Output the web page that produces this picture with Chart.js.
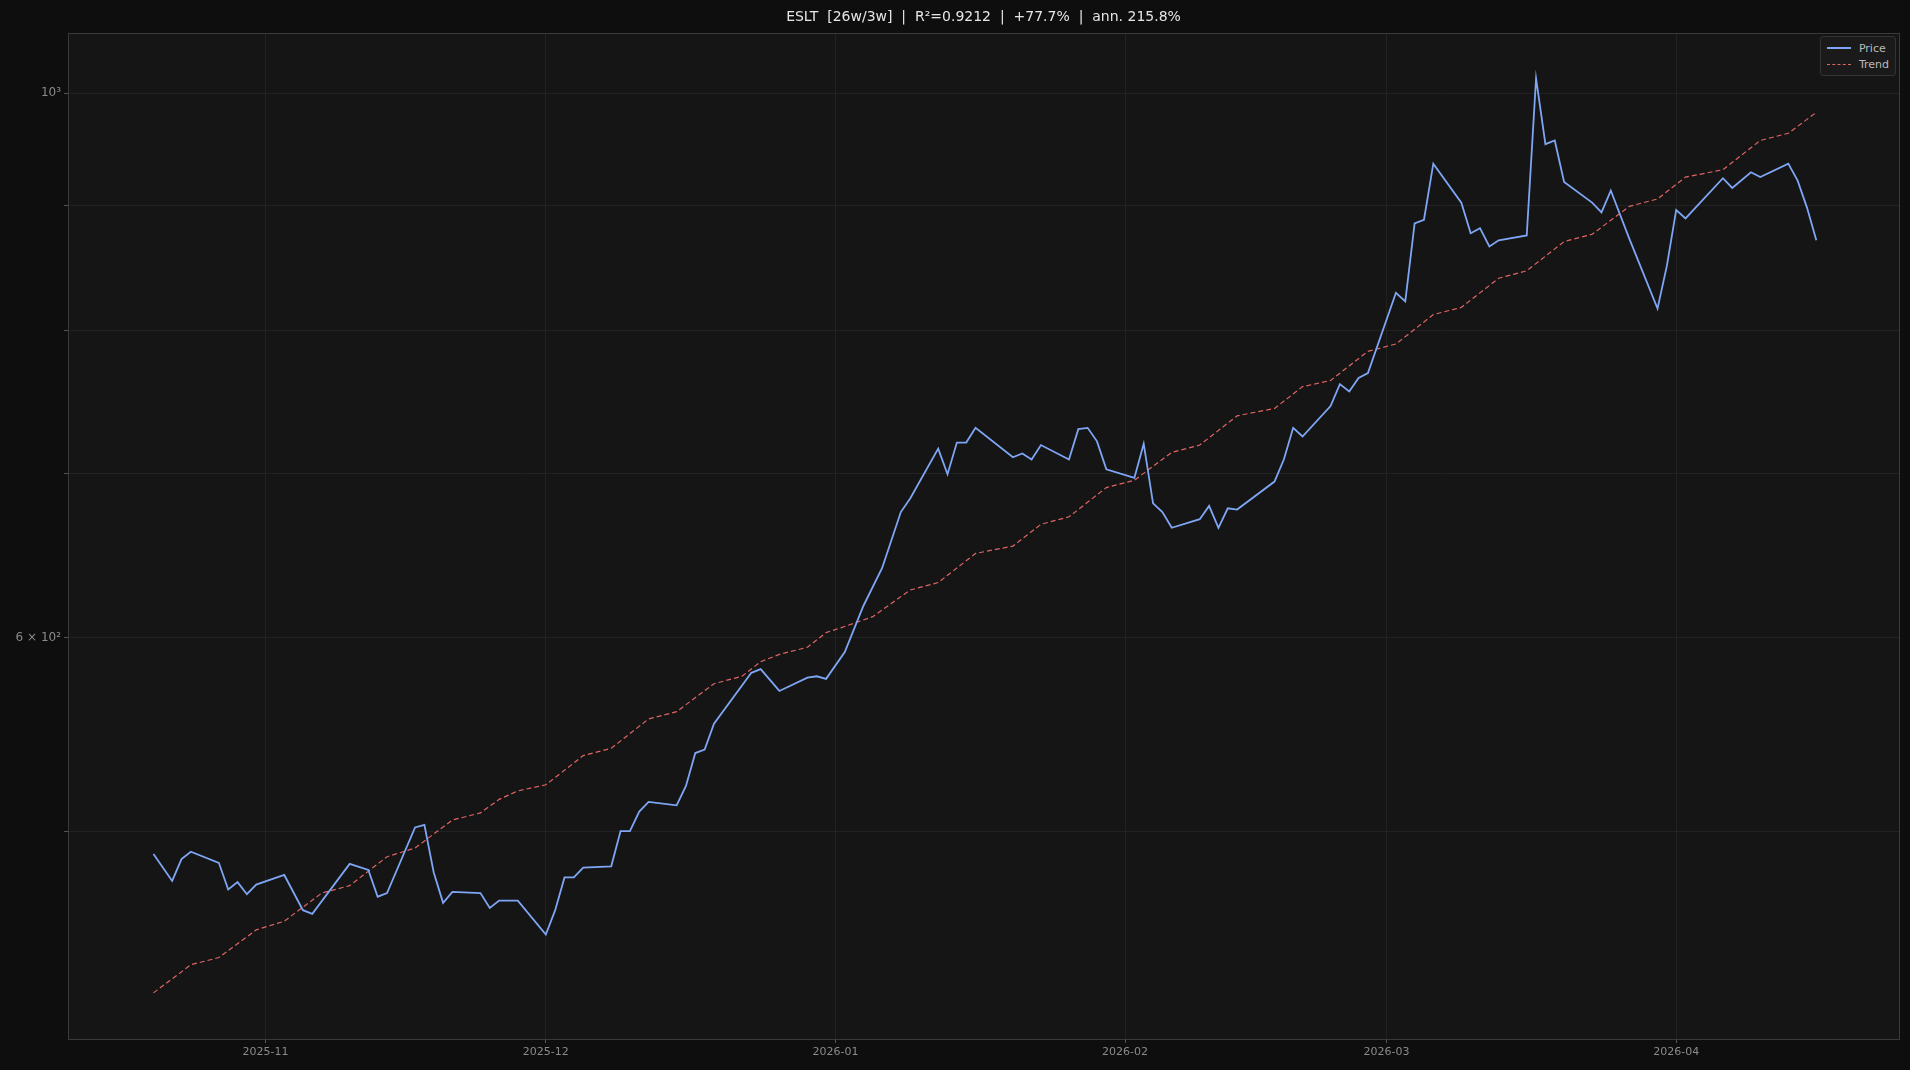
<!DOCTYPE html>
<html>
<head>
<meta charset="utf-8">
<script src="https://cdn.jsdelivr.net/npm/chart.js@4/dist/chart.umd.min.js"></script>
<style>
  html, body { margin: 0; padding: 0; background: #0e0e0e; }
  #wrap { position: relative; width: 1910px; height: 1070px; }
  #title { position: absolute; top: 8px; left: 68px; width: 1831px; text-align: center;
           color: #e6e6e6; font: 14px "DejaVu Sans", sans-serif; }
  #legend { position: absolute; top: 36px; right: 14px; background: #1a1a1a; border: 1px solid #333;
            border-radius: 3px; padding: 3px 6px; font: 11px "DejaVu Sans", sans-serif; color: #bbb; }
  #legend div { display: flex; align-items: center; height: 16px; }
  #legend span.l { display: inline-block; width: 24px; margin-right: 8px; border-top: 2px solid; }
</style>
</head>
<body>
<div id="wrap">
  <canvas id="chart" width="1910" height="1070"></canvas>
  <div id="title">ESLT&nbsp; [26w/3w]&nbsp; |&nbsp; R²=0.9212&nbsp; |&nbsp; +77.7%&nbsp; |&nbsp; ann. 215.8%</div>
  <div id="legend">
    <div><span class="l" style="border-color:#7ea6f4"></span>Price</div>
    <div><span class="l" style="border-color:#e06464;border-top-style:dashed;border-top-width:1px"></span>Trend</div>
  </div>
</div>
<script>
// day offsets counted from 2025-10-20
const priceDays = [0,2,3,4,7,8,9,10,11,14,16,17,21,23,24,25,28,29,30,31,32,35,36,37,39,42,43,44,45,46,49,50,51,52,53,56,57,58,59,60,64,65,67,70,71,72,74,76,78,80,81,84,85,86,87,88,92,93,94,95,98,99,100,101,102,105,106,107,108,109,112,113,114,115,116,120,121,122,123,126,127,128,129,130,133,134,135,136,137,140,141,142,143,144,147,148,149,150,151,154,155,156,158,161,162,163,164,168,169,171,172,175,176,177,178];
const priceVals = [489.6,477.4,487.3,490.7,485.6,473.6,476.9,471.5,475.8,480.1,464.5,462.9,485.1,482.4,470.4,472.0,502.0,503.2,481.2,467.7,472.5,472.0,465.5,468.7,468.7,454.0,464.5,479.0,479.0,483.4,484.0,500.3,500.3,509.5,514.2,512.5,521.9,538.3,540.1,553.3,580.4,582.4,570.6,577.8,578.5,577.1,591.8,618.1,640.4,674.9,683.5,716.3,699.3,720.4,720.4,730.4,710.5,713.0,709.0,718.7,709.0,729.5,730.4,721.2,702.5,696.9,719.6,680.4,674.9,665.0,670.4,678.8,665.0,677.3,676.5,694.5,709.0,730.4,724.5,745.5,761.0,755.8,765.4,768.9,829.1,822.5,884.9,887.9,935.9,902.3,876.8,880.9,865.9,870.9,874.9,1013.9,953.2,956.5,920.0,902.3,894.1,912.6,871.9,816.9,850.3,896.1,889.0,923.2,914.8,928.4,924.2,935.9,921.1,898.1,870.9];
const trendDays = [0,4,7,11,14,18,21,25,28,32,35,37,39,42,46,49,53,56,60,63,65,67,70,72,74,77,81,84,88,92,95,98,102,105,109,112,116,120,123,126,130,133,137,140,144,147,151,154,158,161,164,168,172,175,178];
const trendVals = [429.8,441.3,444.3,456.0,459.7,472.0,475.3,488.4,492.4,505.5,508.9,515.4,519.5,522.5,537.0,540.7,555.8,559.6,574.5,578.5,586.5,590.5,594.5,602.7,606.2,611.8,627.3,631.7,649.2,653.7,667.2,671.9,690.6,695.3,713.8,718.7,738.7,743.8,759.2,763.6,784.8,790.2,812.3,817.8,840.5,846.4,869.9,875.9,899.2,905.4,924.2,930.6,956.5,963.0,982.0];
const monthTicks = [12,42,73,104,132,163];
const monthLabels = ["2025-11","2025-12","2026-01","2026-02","2026-03","2026-04"];
const yGrid = [500,600,700,800,900,1000];
const yLabels = {600: "6 × 10²", 1000: "10³"};

const bgPlugin = {
  id: "bg",
  beforeDraw(chart) {
    const { ctx, chartArea: a } = chart;
    ctx.save();
    ctx.fillStyle = "#0e0e0e";
    ctx.fillRect(0, 0, chart.width, chart.height);
    ctx.fillStyle = "#151515";
    ctx.fillRect(a.left, a.top, a.right - a.left, a.bottom - a.top);
    ctx.restore();
  },
  afterDraw(chart) {
    const { ctx, chartArea: a } = chart;
    ctx.save();
    ctx.strokeStyle = "#3a3a3a";
    ctx.lineWidth = 1;
    ctx.strokeRect(a.left + 0.5, a.top + 0.5, a.right - a.left, a.bottom - a.top);
    ctx.restore();
  }
};

new Chart(document.getElementById("chart"), {
  type: "line",
  data: {
    datasets: [
      { label: "Price", data: priceDays.map((d, i) => ({ x: d, y: priceVals[i] })),
        borderColor: "#7ea6f4", borderWidth: 1.8, pointRadius: 0, tension: 0 },
      { label: "Trend", data: trendDays.map((d, i) => ({ x: d, y: trendVals[i] })),
        borderColor: "#e06464", borderWidth: 1.2, borderDash: [5, 3], pointRadius: 0, tension: 0 }
    ]
  },
  options: {
    responsive: false,
    animation: false,
    layout: { padding: { top: 33, right: 11, left: 0, bottom: 0 } },
    plugins: { legend: { display: false }, tooltip: { enabled: false } },
    scales: {
      x: {
        type: "linear", min: -9.15, max: 186.85,
        afterBuildTicks: s => { s.ticks = monthTicks.map(v => ({ value: v })); },
        afterFit: s => { s.height = 31; },
        ticks: { color: "#8a8a8a", font: { size: 11, family: "DejaVu Sans" }, maxRotation: 0,
                 callback: v => monthLabels[monthTicks.indexOf(v)] },
        grid: { color: "#222222", tickColor: "#555", tickLength: 4 },
        border: { color: "#3a3a3a" }
      },
      y: {
        type: "logarithmic", min: 411.6, max: 1058,
        afterBuildTicks: s => { s.ticks = yGrid.map(v => ({ value: v })); },
        afterFit: s => { s.width = 68; },
        ticks: { color: "#8a8a8a", font: { size: 12, family: "DejaVu Sans" },
                 callback: v => yLabels[v] || "" },
        grid: { color: "#222222", tickColor: "#555", tickLength: 4 },
        border: { color: "#3a3a3a" }
      }
    }
  },
  plugins: [bgPlugin]
});
</script>
</body>
</html>
